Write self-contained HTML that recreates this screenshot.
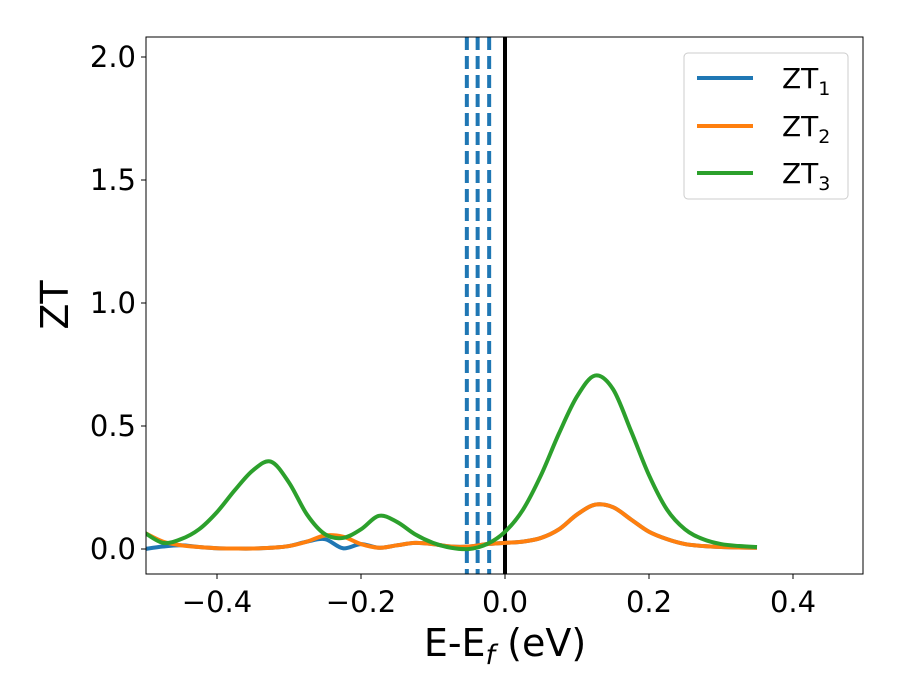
<!DOCTYPE html>
<html><head><meta charset="utf-8"><style>body{margin:0;background:#fff}svg{display:block}text{font-family:"DejaVu Sans","Liberation Sans",sans-serif;fill:#000}</style></head>
<body>
<svg id="chart" width="900" height="700"></svg>
<script>
const xs=[-0.5,-0.475,-0.45,-0.425,-0.4,-0.375,-0.35,-0.325,-0.3,-0.275,-0.25,-0.225,-0.2,-0.175,-0.15,-0.125,-0.1,-0.075,-0.05,-0.025,0,0.025,0.05,0.075,0.1,0.125,0.15,0.175,0.2,0.225,0.25,0.275,0.3,0.325,0.35];
const zt1=[0,0.01,0.015,0.008,0.003,0.002,0.002,0.005,0.012,0.03,0.04,0.003,0.02,0.005,0.015,0.025,0.02,0.01,0.01,0.02,0.025,0.03,0.045,0.08,0.14,0.18,0.17,0.12,0.07,0.04,0.02,0.012,0.008,0.006,0.005];
const zt2=[0.065,0.03,0.015,0.008,0.003,0.002,0.002,0.005,0.012,0.03,0.055,0.05,0.02,0.005,0.015,0.025,0.02,0.01,0.01,0.02,0.025,0.03,0.045,0.08,0.14,0.18,0.17,0.12,0.07,0.04,0.02,0.012,0.008,0.006,0.005];
const zt3=[0.065,0.025,0.04,0.08,0.15,0.24,0.32,0.355,0.27,0.14,0.06,0.045,0.08,0.135,0.11,0.06,0.025,0.005,0,0.02,0.07,0.16,0.3,0.47,0.62,0.705,0.65,0.48,0.3,0.16,0.08,0.04,0.02,0.012,0.008];
const xTicks=[-0.4,-0.2,0.0,0.2,0.4];
const xTickLabels=["\u22120.4","\u22120.2","0.0","0.2","0.4"];
const yTicks=[0,0.5,1.0,1.5,2.0];
const yTickLabels=["0.0","0.5","1.0","1.5","2.0"];
const dashedX=[-0.053,-0.038,-0.022];
const L=146,R=863,T=37,B=574;
const X=v=>505+(v)*720;
const Y=v=>549-v*246;
const svg=document.getElementById('chart');
const NS='http://www.w3.org/2000/svg';
function mk(tag,attrs,parent){const e=document.createElementNS(NS,tag);for(const k in attrs)e.setAttribute(k,attrs[k]);(parent||svg).appendChild(e);return e;}
const clip=mk('clipPath',{id:'pc'});mk('rect',{x:L,y:T,width:R-L,height:B-T},clip);
const g=mk('g',{'clip-path':'url(#pc)'});


dashedX.forEach((v,i)=>{const l=mk('line',{x1:X(v),x2:X(v),y1:T,y2:B,stroke:'#1f77b4','stroke-width':4,'stroke-dasharray':'13,6'},g);

});
const z=mk('line',{x1:X(0),x2:X(0),y1:T,y2:B,stroke:'#000','stroke-width':4},g);


function path(ys){const p=xs.map((x,i)=>[X(x),Y(ys[i])]);let d='M'+p[0][0]+','+p[0][1];
for(let i=0;i<p.length-1;i++){const p0=p[Math.max(i-1,0)],p1=p[i],p2=p[i+1],p3=p[Math.min(i+2,p.length-1)];
d+=' C'+(p1[0]+(p2[0]-p0[0])/6)+','+(p1[1]+(p2[1]-p0[1])/6)+' '+(p2[0]-(p3[0]-p1[0])/6)+','+(p2[1]-(p3[1]-p1[1])/6)+' '+p2[0]+','+p2[1];}return d;}
[[zt1,'#1f77b4','zt1-line'],[zt2,'#ff7f0e','zt2-line'],[zt3,'#2ca02c','zt3-line']].forEach(s=>{const e=mk('path',{d:path(s[0]),fill:'none',stroke:s[1],'stroke-width':4,'stroke-linejoin':'round'},g);

});
const fr=mk('rect',{x:L,y:T,width:R-L,height:B-T,fill:'none',stroke:'#000','stroke-width':1});


xTicks.forEach((v,i)=>{mk('line',{x1:X(v),x2:X(v),y1:B,y2:B+5,stroke:'#000'});
const t=mk('text',{x:X(v),y:B+38,'font-size':29,'text-anchor':'middle'});t.textContent=xTickLabels[i];

});
yTicks.forEach((v,i)=>{mk('line',{x1:L-5,x2:L,y1:Y(v),y2:Y(v),stroke:'#000'});
const t=mk('text',{x:L-10,y:Y(v)+10,'font-size':29,'text-anchor':'end'});t.textContent=yTickLabels[i];

});
</script>
<svg width="900" height="700" style="position:absolute;left:0;top:0">
<text x="505" y="656" font-size="38" text-anchor="middle">E-E<tspan font-style="italic" font-size="27" dy="8">f</tspan><tspan dy="-8"> (eV)</tspan></text>
<text transform="translate(68,305) rotate(-90)" font-size="38" text-anchor="middle">ZT</text>
<g>
<rect x="684" y="53" width="164" height="146" rx="4" fill="#fff" stroke="#ccc" stroke-width="1"/>
<g><line x1="697" x2="753" y1="78" y2="78" stroke="#1f77b4" stroke-width="4"/><text x="782" y="88" font-size="28">ZT<tspan font-size="19" dy="7">1</tspan></text></g>
<g><line x1="697" x2="753" y1="126" y2="126" stroke="#ff7f0e" stroke-width="4"/><text x="782" y="136" font-size="28">ZT<tspan font-size="19" dy="7">2</tspan></text></g>
<g><line x1="697" x2="753" y1="173" y2="173" stroke="#2ca02c" stroke-width="4"/><text x="782" y="183" font-size="28">ZT<tspan font-size="19" dy="7">3</tspan></text></g>
</g>
</svg>
</body></html>
